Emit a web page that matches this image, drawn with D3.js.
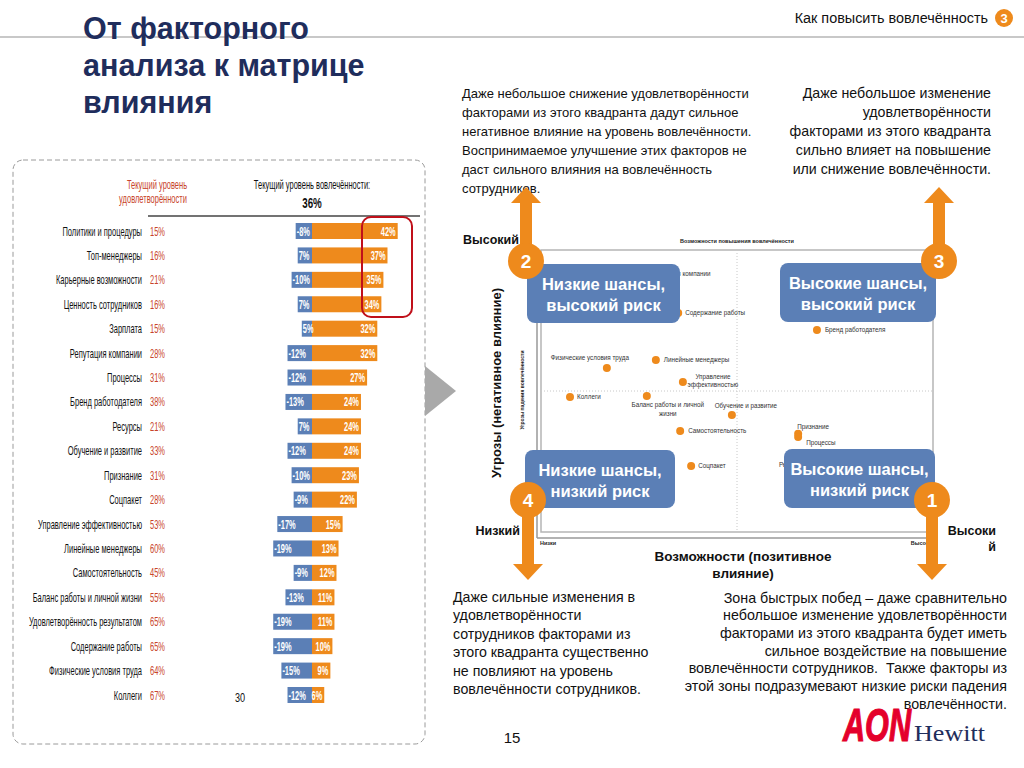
<!DOCTYPE html>
<html><head><meta charset="utf-8">
<script src="https://cdn.jsdelivr.net/npm/d3@7"></script>
<style>body{margin:0;background:#fff}svg{display:block}text{white-space:pre}</style>
</head><body>
<script>
// ---------- DATA ----------
const categories = ["Политики и процедуры","Топ-менеджеры","Карьерные возможности","Ценность сотрудников","Зарплата","Репутация компании","Процессы","Бренд работодателя","Ресурсы","Обучение и развитие","Признание","Соцпакет","Управление эффективностью","Линейные менеджеры","Самостоятельность","Баланс работы и личной жизни","Удовлетворённость результатом","Содержание работы","Физические условия труда","Коллеги"];
const satisfaction = [15,16,21,16,15,28,31,38,21,33,31,28,53,60,45,55,65,65,64,67];
const negativeImpact = [-8,-7,-10,-7,-5,-12,-12,-13,-7,-12,-10,-9,-17,-19,-9,-13,-19,-19,-15,-12];
const positiveImpact = [42,37,35,34,32,32,27,24,24,24,23,22,15,13,12,11,11,10,9,6];
const engagementLevel = 36;

const matrixFactors = ["Репутация компании","Содержание работы","Бренд работодателя","Физические условия труда","Линейные менеджеры","Управление эффективностью","Коллеги","Баланс работы и личной жизни","Обучение и развитие","Самостоятельность","Признание","Процессы","Соцпакет","Ресурсы"];
const matrixOpportunity = [26,35,70.4,16.8,29.3,36.2,7.4,27,48.7,35.5,65.6,65.6,38.3,64];
const matrixThreat = [91.5,77.7,71.6,58.2,61,53.2,47.9,48.2,41.5,35.8,34.8,33.7,23.4,23];

const quadrantTitles = [["Низкие шансы,","высокий риск"],["Высокие шансы,","высокий риск"],["Низкие шансы,","низкий риск"],["Высокие шансы,","низкий риск"]];
const quadrantNumbers = ["2","3","4","1"];

const textTopLeft = ["Даже небольшое снижение удовлетворённости","факторами из этого квадранта дадут сильное","негативное влияние на уровень вовлечённости.","Воспринимаемое улучшение этих факторов не","даст сильного влияния на вовлечённость","сотрудников."];
const textTopRight = ["Даже небольшое изменение","удовлетворённости","факторами из этого квадранта","сильно влияет на повышение","или снижение вовлечённости."];
const textBottomLeft = ["Даже сильные изменения в","удовлетворённости","сотрудников факторами из","этого квадранта существенно","не повлияют на уровень","вовлечённости сотрудников."];
const textBottomRight = ["Зона быстрых побед – даже сравнительно","небольшое изменение удовлетворённости","факторами из этого квадранта будет иметь","сильное воздействие на повышение","вовлечённости сотрудников.  Также факторы из","этой зоны подразумевают низкие риски падения","вовлечённости."];
const titleLines = ["От факторного","анализа к матрице","влияния"];

// ---------- LAYOUT ----------
const BLUE = "#5b7fb6", ORANGE = "#ee8a1c", NAVY = "#1f2d5c", RED = "#c8442a";
const SANS = "'Liberation Sans', Arial, sans-serif";
const SQ = 0.6; // horizontal squeeze for the condensed chart font

const svg = d3.select("body").append("svg").attr("width",1024).attr("height",768);

function narrow(parent, xx, yy, str, opts){
  opts = opts||{};
  return parent.append("text").attr("transform",`translate(${xx},${yy}) scale(${opts.sq||SQ},1)`)
    .attr("text-anchor",opts.anchor||"start").attr("font-family",SANS)
    .attr("font-size",opts.size||12.5).attr("font-weight",opts.weight||"normal")
    .attr("fill",opts.fill||"#111").text(str);
}

// header rule + title
svg.append("rect").attr("x",0).attr("y",36).attr("width",1024).attr("height",2).attr("fill","#c8c8c8");
svg.append("g").selectAll("text").data(titleLines).join("text")
  .attr("x",83).attr("y",(d,i)=>39+i*37).attr("font-family",SANS).attr("font-weight","bold")
  .attr("font-size",30.5).attr("fill",NAVY).text(d=>d);
narrow(svg,988,23,"Как повысить вовлечённость",{anchor:"end",size:15.5,sq:0.93});
svg.append("circle").attr("cx",1004).attr("cy",18).attr("r",9).attr("fill",ORANGE);
svg.append("text").attr("x",1004).attr("y",23).attr("text-anchor","middle").attr("font-family",SANS)
  .attr("font-weight","bold").attr("font-size",13).attr("fill","#fff").text("3");

// left panel
svg.append("rect").attr("x",13).attr("y",160).attr("width",412).attr("height",584).attr("rx",10)
  .attr("fill","none").attr("stroke","#9a9a9a").attr("stroke-dasharray","5,3");
svg.append("path").attr("d","M425,366 L456,391 L425,416 Z").attr("fill","#a9a9a9");

const x = d3.scaleLinear().domain([0,42]).range([312,397.7]);
const y = d3.scalePoint().domain(categories).range([231,695]);
const barH = 16;
const g = svg.append("g");

narrow(g,157,189,"Текущий уровень",{anchor:"middle",fill:RED});
narrow(g,153,203,"удовлетворённости",{anchor:"middle",fill:RED});
narrow(g,312,189,"Текущий уровень вовлечённости:",{anchor:"middle"});
narrow(g,312,208,engagementLevel+"%",{anchor:"middle",weight:"bold",size:14,sq:0.7});
g.append("line").attr("x1",148).attr("x2",420).attr("y1",216).attr("y2",216).attr("stroke","#444").attr("stroke-width",1.5);

const rows = categories.map((c,i)=>({c, s:satisfaction[i], n:negativeImpact[i], p:positiveImpact[i]}));
g.selectAll(".neg").data(rows).join("rect").attr("x",d=>x(d.n)).attr("y",d=>y(d.c)-barH/2)
  .attr("width",d=>x(0)-x(d.n)).attr("height",barH).attr("fill",BLUE);
g.selectAll(".pos").data(rows).join("rect").attr("x",x(0)).attr("y",d=>y(d.c)-barH/2)
  .attr("width",d=>x(d.p)-x(0)).attr("height",barH).attr("fill",ORANGE);
rows.forEach(d=>{
  const yy = y(d.c)+4.5;
  narrow(g,142,yy,d.c,{anchor:"end"});
  narrow(g,150,yy,d.s+"%",{fill:RED});
  narrow(g,x(d.n)+1,yy,(Math.abs(d.n)<8?Math.abs(d.n):d.n)+"%",{fill:"#fff",weight:"bold",size:12,sq:0.62});
  narrow(g,x(d.p)-2,yy,d.p+"%",{anchor:"end",fill:"#fff",weight:"bold",size:12,sq:0.62});
});
g.append("rect").attr("x",362).attr("y",217).attr("width",50).attr("height",100).attr("rx",9)
  .attr("fill","none").attr("stroke","#c0101a").attr("stroke-width",2);
narrow(g,240,702,"30",{anchor:"middle",size:13,sq:0.7});

// text blocks
function block(lines, xx, y0, step, anchor, size){
  svg.append("g").selectAll("text").data(lines).join("text").attr("x",xx).attr("y",(d,i)=>y0+i*step)
    .attr("text-anchor",anchor).attr("font-family",SANS).attr("font-size",size).attr("fill","#111").text(d=>d);
}
block(textTopLeft,462,97.5,19,"start",13);
block(textTopRight,991,98,19,"end",14.2);
block(textBottomLeft,453,602,18.4,"start",14.2);
block(textBottomRight,1007,602.5,17.7,"end",14.3);

// matrix
const mx = d3.scaleLinear().domain([0,100]).range([541,933]);
const my = d3.scaleLinear().domain([0,100]).range([532,250]);
const m = svg.append("g");
m.append("rect").attr("x",mx(0)).attr("y",my(100)).attr("width",mx(100)-mx(0)).attr("height",my(0)-my(100))
  .attr("fill","none").attr("stroke","#b5b5b5").attr("stroke-width",1.5);
m.append("line").attr("x1",mx(50)).attr("x2",mx(50)).attr("y1",my(100)).attr("y2",my(0)).attr("stroke","#c8c8c8").attr("stroke-dasharray","1,2");
m.append("line").attr("x1",mx(0)).attr("x2",mx(100)).attr("y1",my(50)).attr("y2",my(50)).attr("stroke","#c8c8c8").attr("stroke-dasharray","1,2");
m.append("line").attr("x1",537).attr("x2",936).attr("y1",538).attr("y2",538).attr("stroke","#999").attr("stroke-width",1.5);
m.append("line").attr("x1",537).attr("x2",537).attr("y1",250).attr("y2",538).attr("stroke","#999").attr("stroke-width",1.5);
m.append("text").attr("x",mx(50)).attr("y",243).attr("text-anchor","middle").attr("font-family",SANS)
  .attr("font-weight","bold").attr("font-size",5.5).attr("fill","#222").text("Возможности повышения вовлечённости");
m.append("text").attr("transform","translate(524,390) rotate(-90)").attr("text-anchor","middle").attr("font-family",SANS)
  .attr("font-weight","bold").attr("font-size",5).attr("fill","#222").text("Угрозы падения вовлечённости");
m.append("text").attr("x",540).attr("y",545).attr("font-family",SANS).attr("font-weight","bold").attr("font-size",5.5).attr("fill","#222").text("Низки");
m.append("text").attr("x",932).attr("y",545).attr("text-anchor","end").attr("font-family",SANS).attr("font-weight","bold").attr("font-size",5.5).attr("fill","#222").text("Высоки");

// point label layout: [anchor, dx, dy, lines]
const labelLayout = {
 "Репутация компании":["start",7,2,["Репутация компании"]],
 "Содержание работы":["start",7,2,["Содержание работы"]],
 "Бренд работодателя":["start",8,2,["Бренд работодателя"]],
 "Физические условия труда":["middle",-17,-8,["Физические условия труда"]],
 "Линейные менеджеры":["start",8,2,["Линейные менеджеры"]],
 "Управление эффективностью":["middle",30,-3,["Управление","эффективностью"]],
 "Коллеги":["start",7,2,["Коллеги"]],
 "Баланс работы и личной жизни":["middle",21,11,["Баланс работы и личной","жизни"]],
 "Обучение и развитие":["middle",14,-7,["Обучение и развитие"]],
 "Самостоятельность":["start",8,2,["Самостоятельность"]],
 "Признание":["start",-1,-5,["Признание"]],
 "Процессы":["start",8,8,["Процессы"]],
 "Соцпакет":["start",7,2,["Соцпакет"]],
 "Ресурсы":["start",-13,0,["Ресурсы"]]
};
const pts = matrixFactors.map((f,i)=>({f, ox:mx(matrixOpportunity[i]), oy:my(matrixThreat[i])}));
m.selectAll(".pt").data(pts).join("circle").attr("cx",d=>d.ox).attr("cy",d=>d.oy).attr("r",4).attr("fill",ORANGE);
pts.forEach(d=>{
  const L = labelLayout[d.f];
  const t = m.append("text").attr("text-anchor",L[0]).attr("font-family",SANS).attr("font-size",6.3).attr("fill","#333");
  L[3].forEach((ln,k)=>t.append("tspan").attr("x",d.ox+L[1]).attr("y",d.oy+L[2]+k*8.5).text(ln));
});

// axis titles
const bold = (xx,yy,str,anchor,size)=>svg.append("text").attr("x",xx).attr("y",yy).attr("text-anchor",anchor)
  .attr("font-family",SANS).attr("font-weight","bold").attr("font-size",size||12.5).attr("fill","#111").text(str);
svg.append("text").attr("transform","translate(501,383) rotate(-90)").attr("text-anchor","middle").attr("font-family",SANS)
  .attr("font-weight","bold").attr("font-size",13).attr("fill","#111").text("Угрозы (негативное влияние)");
bold(743,561,"Возможности (позитивное","middle",13.5);
bold(743,578,"влияние)","middle",13.5);
bold(519,244,"Высокий","end");
bold(520,535,"Низкий","end");
bold(996,535,"Высоки","end");
bold(996,551,"й","end");

// arrows + number circles
const arrows = [{cx:526,cy:261,dir:-1},{cx:939,cy:261,dir:-1},{cx:528,cy:500,dir:1},{cx:932,cy:500,dir:1}];
const a = svg.append("g");
arrows.forEach(d=>{
  const tip = d.dir<0 ? 187 : 580, base = d.dir<0 ? 203 : 564;
  a.append("rect").attr("x",d.cx-6).attr("width",12).attr("y",Math.min(base,d.cy)).attr("height",Math.abs(d.cy-base)).attr("fill",ORANGE);
  a.append("path").attr("d",`M${d.cx-15},${base} L${d.cx+15},${base} L${d.cx},${tip} Z`).attr("fill",ORANGE);
});

// quadrant boxes
const boxes = [{x:527,y:264,w:153,h:59},{x:780,y:263,w:156,h:59},{x:525,y:450,w:150,h:58},{x:784,y:449,w:151,h:59}];
boxes.forEach((b,i)=>{
  svg.append("rect").attr("x",b.x).attr("y",b.y).attr("width",b.w).attr("height",b.h).attr("rx",8).attr("fill",BLUE);
  quadrantTitles[i].forEach((ln,k)=>svg.append("text").attr("x",b.x+b.w/2).attr("y",b.y+26+k*20.5)
    .attr("text-anchor","middle").attr("font-family",SANS).attr("font-weight","bold").attr("font-size",16.5).attr("fill","#fff").text(ln));
});
arrows.forEach((d,i)=>{
  svg.append("circle").attr("cx",d.cx).attr("cy",d.cy).attr("r",18).attr("fill",ORANGE);
  svg.append("text").attr("x",d.cx).attr("y",d.cy+7).attr("text-anchor","middle").attr("font-family",SANS)
    .attr("font-weight","bold").attr("font-size",19).attr("fill","#fff").text(quadrantNumbers[i]);
});

// page number + logo
svg.append("text").attr("x",512).attr("y",743).attr("text-anchor","middle").attr("font-family",SANS).attr("font-size",15).attr("fill","#111").text("15");
svg.append("text").attr("x",843).attr("y",741).attr("font-family",SANS).attr("font-weight","900").attr("font-style","italic")
  .attr("font-size",46).attr("textLength",68).attr("lengthAdjust","spacingAndGlyphs").attr("fill","#e4002b")
  .attr("stroke","#e4002b").attr("stroke-width",1.2).text("AON");
svg.append("text").attr("x",914).attr("y",741).attr("font-family","'Liberation Serif', serif").attr("font-size",23)
  .attr("textLength",71).attr("lengthAdjust","spacingAndGlyphs").attr("fill","#1f2d5c").text("Hewitt");
</script>
</body></html>
